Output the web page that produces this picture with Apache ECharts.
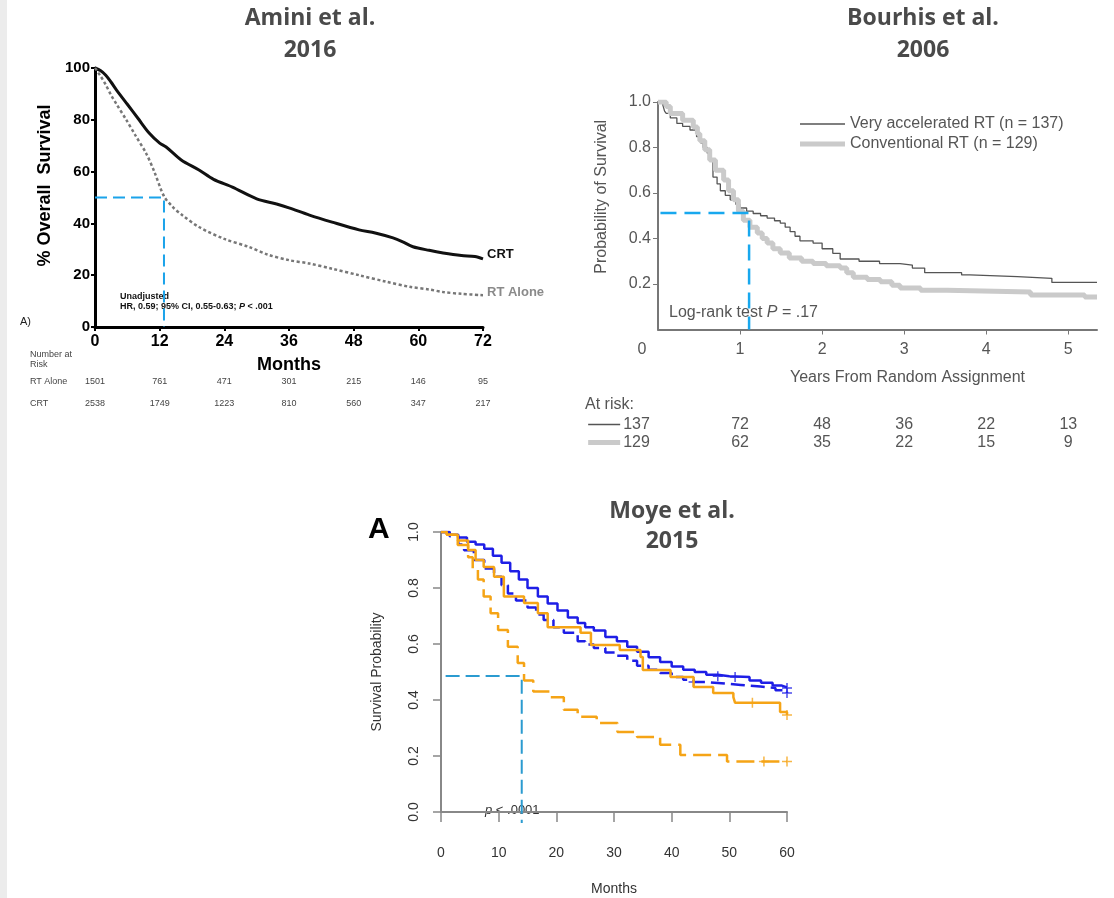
<!DOCTYPE html>
<html>
<head>
<meta charset="utf-8">
<script src="https://cdn.jsdelivr.net/npm/echarts@6/dist/echarts.min.js"></script>
<style>
  html, body { margin: 0; background: #fff; }
  #main { width: 1114px; height: 898px; }
</style>
</head>
<body>
<div id="main"></div>
<script>
// Amini et al. 2016 (months, % overall survival)
const aminiCrt = [[0, 100], [1, 99], [2, 97.2], [3, 94.5], [4, 91.5], [6, 86], [8, 80.5], [10, 75], [12, 71], [13.2, 69.5], [16, 64.5], [19.3, 60.6], [22, 57], [25.5, 54], [30, 49.5], [33.7, 47.5], [36, 46], [39.8, 43.2], [44, 40.5], [49, 37.5], [52, 36.3], [55.3, 34.4], [57, 33], [59, 31], [62, 29.6], [64.6, 28.6], [68, 27.6], [70.5, 27.2], [72, 26.3]]
const aminiRtAlone = [[0, 100], [1, 97], [2, 93.5], [3, 89.5], [4, 86], [5.8, 80], [7.5, 74], [9.5, 67], [11, 60], [12.8, 50.5], [14.5, 46.2], [16, 43.5], [19.3, 38.6], [24, 34], [28.6, 30.9], [32, 28], [36, 25.8], [39.8, 24.5], [44, 22.5], [49, 20], [54, 17.5], [58.4, 15.5], [62, 14.5], [64.6, 13.5], [68, 12.8], [72, 12.3]]
const aminiMedian = [12.8, 50]
const aminiRiskRtAlone = [1501, 761, 471, 301, 215, 146, 95]
const aminiRiskCrt = [2538, 1749, 1223, 810, 560, 347, 217]

// Bourhis et al. 2006 (years, probability)
const bourhisVeryAcc = [[0, 1], [0.06, 0.985], [0.08, 0.96], [0.1, 0.95], [0.15, 0.93], [0.23, 0.906], [0.3, 0.893], [0.39, 0.877], [0.47, 0.848], [0.52, 0.82], [0.55, 0.8], [0.6, 0.775], [0.63, 0.745], [0.67, 0.67], [0.72, 0.64], [0.76, 0.61], [0.82, 0.59], [0.88, 0.57], [0.95, 0.55], [1.0, 0.534], [1.08, 0.52], [1.16, 0.51], [1.25, 0.5], [1.33, 0.49], [1.42, 0.478], [1.49, 0.468], [1.55, 0.45], [1.61, 0.43], [1.67, 0.41], [1.73, 0.39], [1.89, 0.38], [2.0, 0.355], [2.13, 0.335], [2.22, 0.31], [2.45, 0.3], [2.7, 0.29], [2.95, 0.283], [3.1, 0.27], [3.25, 0.25], [3.7, 0.24], [3.8, 0.232], [4.38, 0.225], [4.8, 0.207], [5.35, 0.207]]
const bourhisConv = [[0, 1], [0.1, 0.98], [0.15, 0.95], [0.3, 0.92], [0.43, 0.89], [0.48, 0.86], [0.51, 0.83], [0.57, 0.79], [0.63, 0.745], [0.7, 0.7], [0.8, 0.657], [0.86, 0.61], [0.92, 0.57], [0.98, 0.52], [1.04, 0.48], [1.12, 0.45], [1.21, 0.424], [1.27, 0.4], [1.33, 0.38], [1.4, 0.355], [1.49, 0.336], [1.6, 0.314], [1.75, 0.3], [1.89, 0.29], [2.05, 0.28], [2.22, 0.27], [2.3, 0.25], [2.38, 0.23], [2.55, 0.22], [2.71, 0.21], [2.85, 0.195], [2.95, 0.182], [3.2, 0.172], [3.52, 0.165], [4.54, 0.152], [5.2, 0.143], [5.35, 0.14]]
const bourhisMedian = [1.11, 0.512]
const bourhisRiskVeryAcc = [137, 72, 48, 36, 22, 13]
const bourhisRiskConv = [129, 62, 35, 22, 15, 9]

// Moye et al. 2015 (months, probability)
const moyeBlueSolid = [[0, 1], [1.5, 0.99], [3, 0.98], [4.5, 0.965], [6, 0.955], [7.5, 0.94], [9, 0.915], [10.5, 0.89], [12, 0.86], [13.5, 0.83], [15, 0.8], [16.8, 0.77], [18.5, 0.745], [20.2, 0.72], [22, 0.695], [23.7, 0.675], [25, 0.66], [26.5, 0.648], [28.5, 0.625], [30.5, 0.61], [32.3, 0.59], [34, 0.572], [36, 0.553], [38, 0.536], [40, 0.52], [42, 0.508], [44, 0.5], [46, 0.49], [48, 0.485], [50, 0.482], [53.5, 0.47], [55.5, 0.462], [57.5, 0.452], [59, 0.445], [60, 0.443]]
const moyeBlueDashed = [[0, 1], [1.5, 0.985], [3, 0.955], [4, 0.935], [5.7, 0.9], [7.5, 0.87], [9.2, 0.84], [10.5, 0.81], [11.6, 0.78], [13, 0.755], [15, 0.73], [16.5, 0.705], [17.8, 0.686], [19.5, 0.66], [21.3, 0.64], [23.7, 0.61], [25, 0.598], [26.5, 0.586], [28.5, 0.57], [30.5, 0.558], [32.3, 0.54], [34, 0.522], [36, 0.508], [38, 0.496], [40, 0.482], [42, 0.472], [43.8, 0.464], [46, 0.458], [49.6, 0.454], [52, 0.448], [55.4, 0.443], [58, 0.435], [60, 0.425]]
const moyeOrangeSolid = [[0, 1], [1, 0.99], [2.9, 0.97], [4.7, 0.936], [6, 0.9], [7.4, 0.875], [9.2, 0.84], [10.9, 0.77], [14.4, 0.746], [16.8, 0.71], [18.5, 0.66], [24.2, 0.64], [26, 0.596], [31, 0.579], [34.6, 0.554], [35, 0.507], [39.8, 0.482], [43.8, 0.446], [47.2, 0.425], [50.7, 0.41], [51, 0.39], [58.8, 0.357], [60, 0.346]]
const moyeOrangeDashed = [[0, 1], [1, 0.99], [2.9, 0.954], [4.7, 0.91], [5.5, 0.87], [6.4, 0.83], [7.4, 0.77], [8.6, 0.71], [9.9, 0.65], [11.6, 0.59], [13.3, 0.532], [14.4, 0.47], [16, 0.43], [19, 0.41], [21.3, 0.365], [23.7, 0.34], [27, 0.318], [30.6, 0.286], [34, 0.268], [38, 0.24], [41.5, 0.204], [49.6, 0.18], [60, 0.18]]
const moyeCensorBlueSolid = [[48, 0.485], [51, 0.482], [60, 0.443]]
const moyeCensorBlueDashed = [[43.8, 0.464], [60, 0.425]]
const moyeCensorOrangeSolid = [[54, 0.39], [60, 0.346]]
const moyeCensorOrangeDashed = [[56, 0.18], [60, 0.18]]
const moyeMedian = [14, 0.486]

const FONT = '"Liberation Sans", Arial, sans-serif'
const TITLE_FONT = 'bold 23px "Open Sans", sans-serif'

function refLine(m, x0, yBottom) {
  return [[x0, m[1]], [m[0], m[1]], [m[0], yBottom]]
}

function text(x, y, str, font, fill, extra) {
  return {
    type: 'text',
    x: x,
    y: y,
    style: Object.assign({ text: str, font: font, fill: fill, align: 'left', verticalAlign: 'middle' }, extra || {})
  }
}

const plus = 'path://M5,0L5,10M0,5L10,5'

const chart = echarts.init(document.getElementById('main'))

const option = {
  backgroundColor: '#fff',
  animation: false,
  graphic: [
    { type: 'rect', shape: { x: 0, y: 0, width: 7, height: 898 }, style: { fill: '#ececec' } },
    text(310, 18, 'Amini et al.', TITLE_FONT, '#4a4a4a', { align: 'center' }),
    text(310, 50, '2016', TITLE_FONT, '#4a4a4a', { align: 'center' }),
    text(923, 18, 'Bourhis et al.', TITLE_FONT, '#4a4a4a', { align: 'center' }),
    text(923, 50, '2006', TITLE_FONT, '#4a4a4a', { align: 'center' }),
    text(672, 511, 'Moye et al.', TITLE_FONT, '#4a4a4a', { align: 'center' }),
    text(672, 541, '2015', TITLE_FONT, '#4a4a4a', { align: 'center' }),
    text(120, 297, 'Unadjusted', 'bold 9px ' + FONT, '#111'),
    text(120, 307, '{b|HR, 0.59; 95% CI, 0.55-0.63; }{i|P}{b| < .001}', 'bold 9px ' + FONT, '#111', {
      rich: {
        b: { fontSize: 9, fontWeight: 'bold', fontFamily: FONT, fill: '#111' },
        i: { fontSize: 9, fontWeight: 'bold', fontStyle: 'italic', fontFamily: FONT, fill: '#111' }
      }
    }),
    text(20, 322, 'A)', '11px ' + FONT, '#222'),
    text(30, 360, 'Number at\nRisk', '9px ' + FONT, '#444', { lineHeight: 10 }),
    text(30, 382, 'RT Alone', '9px ' + FONT, '#444'),
    text(30, 404, 'CRT', '9px ' + FONT, '#444'),
    text(669, 313, '{n|Log-rank test }{i|P}{n| = .17}', '16px ' + FONT, '#555', {
      rich: {
        n: { fontSize: 16, fontFamily: FONT, fill: '#555' },
        i: { fontSize: 16, fontStyle: 'italic', fontFamily: FONT, fill: '#555' }
      }
    }),
    text(585, 405, 'At risk:', '16px ' + FONT, '#555'),
    text(368, 530, 'A', 'bold 30px ' + FONT, '#000'),
    text(485, 810, '{i|p}{n| < .0001}', '13px ' + FONT, '#333', {
      rich: {
        n: { fontSize: 13, fontFamily: FONT, fill: '#333' },
        i: { fontSize: 13, fontStyle: 'italic', fontFamily: FONT, fill: '#333' }
      }
    })
  ],
  legend: {
    data: [
      { name: 'Very accelerated RT (n = 137)', icon: 'path://M0,0H45V1.5H0Z' },
      { name: 'Conventional RT (n = 129)', icon: 'path://M0,0H45V5H0Z' }
    ],
    left: 795,
    top: 111,
    orient: 'vertical',
    itemWidth: 45,
    itemHeight: 14,
    itemGap: 4,
    textStyle: { color: '#555', fontSize: 16, fontFamily: FONT }
  },
  grid: [
    { left: 95, top: 68, width: 388, height: 259 },
    { left: 658, top: 102, width: 439, height: 227.5 },
    { left: 441, top: 532, width: 346, height: 280 }
  ],
  xAxis: [
    {
      gridIndex: 0, type: 'value', min: 0, max: 72, interval: 12,
      axisLine: { show: true, lineStyle: { color: '#000', width: 3 } },
      axisTick: { show: true, length: 4, lineStyle: { color: '#000', width: 2 } },
      axisLabel: { margin: 7, fontSize: 16, fontWeight: 'bold', color: '#000', fontFamily: FONT },
      splitLine: { show: false },
      name: 'Months', nameLocation: 'middle', nameGap: 29,
      nameTextStyle: { fontSize: 18, fontWeight: 'bold', color: '#000', fontFamily: FONT }
    },
    {
      gridIndex: 0, type: 'value', min: 0, max: 72, interval: 12, position: 'bottom', offset: 46,
      axisLine: { show: false }, axisTick: { show: false }, splitLine: { show: false },
      axisLabel: { margin: 4, fontSize: 9, color: '#444', fontFamily: FONT, formatter: (v) => aminiRiskRtAlone[Math.round(v / 12)] }
    },
    {
      gridIndex: 0, type: 'value', min: 0, max: 72, interval: 12, position: 'bottom', offset: 68,
      axisLine: { show: false }, axisTick: { show: false }, splitLine: { show: false },
      axisLabel: { margin: 4, fontSize: 9, color: '#444', fontFamily: FONT, formatter: (v) => aminiRiskCrt[Math.round(v / 12)] }
    },
    {
      gridIndex: 1, type: 'value', min: 0, max: 5.35, interval: 1,
      axisLine: { show: true, lineStyle: { color: '#777', width: 2 } },
      axisTick: { show: true, length: 5, customValues: [1, 2, 3, 4, 5], lineStyle: { color: '#777' } },
      axisLabel: {
        margin: 12, fontSize: 16, color: '#555', fontFamily: FONT,
        customValues: [0, 1, 2, 3, 4, 5],
        formatter: (v) => (v === 0 ? '{z|0}' : (Number.isInteger(v) ? String(v) : '')),
        rich: { z: { fontSize: 16, color: '#555', fontFamily: FONT, padding: [0, 32, 0, 0] } }
      },
      splitLine: { show: false },
      name: 'Years From Random Assignment', nameLocation: 'middle', nameGap: 40,
      nameTextStyle: { fontSize: 16, color: '#555', fontFamily: FONT, padding: [0, 0, 0, 60] }
    },
    {
      gridIndex: 1, type: 'value', min: 0, max: 5.35, interval: 1, position: 'bottom', offset: 80,
      axisLine: { show: false }, axisTick: { show: false }, splitLine: { show: false },
      axisLabel: {
        margin: 7, fontSize: 16, color: '#555', fontFamily: FONT,
        customValues: [0, 1, 2, 3, 4, 5],
        formatter: (v) => {
          if (!Number.isInteger(v)) return ''
          return v === 0 ? '{ln|}{n|' + bourhisRiskVeryAcc[0] + '}{sp|}' : String(bourhisRiskVeryAcc[v])
        },
        rich: {
          ln: { width: 32, height: 1.5, backgroundColor: '#555' },
          n: { fontSize: 16, color: '#555', fontFamily: FONT, padding: [0, 0, 0, 3] },
          sp: { width: 78 }
        }
      }
    },
    {
      gridIndex: 1, type: 'value', min: 0, max: 5.35, interval: 1, position: 'bottom', offset: 98,
      axisLine: { show: false }, axisTick: { show: false }, splitLine: { show: false },
      axisLabel: {
        margin: 7, fontSize: 16, color: '#555', fontFamily: FONT,
        customValues: [0, 1, 2, 3, 4, 5],
        formatter: (v) => {
          if (!Number.isInteger(v)) return ''
          return v === 0 ? '{ln|}{n|' + bourhisRiskConv[0] + '}{sp|}' : String(bourhisRiskConv[v])
        },
        rich: {
          ln: { width: 32, height: 5, backgroundColor: '#cacaca' },
          n: { fontSize: 16, color: '#555', fontFamily: FONT, padding: [0, 0, 0, 3] },
          sp: { width: 78 }
        }
      }
    },
    {
      gridIndex: 2, type: 'value', min: 0, max: 60, interval: 10, offset: 11,
      axisLine: { show: true, lineStyle: { color: '#888', width: 2 } },
      axisTick: { show: true, length: 10, lineStyle: { color: '#888', width: 1.5 } },
      axisLabel: { margin: 23, fontSize: 14, color: '#333', fontFamily: FONT },
      splitLine: { show: false },
      name: 'Months', nameLocation: 'middle', nameGap: 59,
      nameTextStyle: { fontSize: 14, color: '#333', fontFamily: FONT }
    }
  ],
  yAxis: [
    {
      gridIndex: 0, type: 'value', min: 0, max: 100, interval: 20,
      axisLine: { show: true, lineStyle: { color: '#000', width: 3 } },
      axisTick: { show: true, length: 4, lineStyle: { color: '#000', width: 2 } },
      axisLabel: { margin: 5, fontSize: 15, fontWeight: 'bold', color: '#000', fontFamily: FONT },
      splitLine: { show: false },
      name: '% Overall  Survival', nameLocation: 'middle', nameGap: 41,
      nameTextStyle: { fontSize: 18, fontWeight: 'bold', color: '#000', fontFamily: FONT, padding: [0, 0, 0, 24] }
    },
    {
      gridIndex: 1, type: 'value', min: 0, max: 1, interval: 0.2,
      axisLine: { show: true, lineStyle: { color: '#777', width: 2 } },
      axisTick: { show: true, length: 5, customValues: [0.2, 0.4, 0.6, 0.8, 1], lineStyle: { color: '#777' } },
      axisLabel: { margin: 7, fontSize: 16, color: '#555', fontFamily: FONT, formatter: (v) => (v === 0 ? '' : v.toFixed(1)) },
      splitLine: { show: false },
      name: 'Probability of Survival', nameLocation: 'middle', nameGap: 48,
      nameTextStyle: { fontSize: 16, color: '#555', fontFamily: FONT, padding: [0, 0, 0, 38] }
    },
    {
      gridIndex: 2, type: 'value', min: 0, max: 1, interval: 0.2,
      axisLine: { show: true, lineStyle: { color: '#888', width: 2 } },
      axisTick: { show: true, length: 8, lineStyle: { color: '#888', width: 1.5 } },
      axisLabel: { margin: 20, rotate: 90, fontSize: 14, color: '#333', fontFamily: FONT, formatter: (v) => v.toFixed(1) },
      splitLine: { show: false },
      name: 'Survival Probability', nameLocation: 'middle', nameGap: 57,
      nameTextStyle: { fontSize: 14, color: '#333', fontFamily: FONT }
    }
  ],
  series: [
    {
      name: 'CRT', type: 'line', xAxisIndex: 0, yAxisIndex: 0, data: aminiCrt,
      symbol: 'none', smooth: 0.3, lineStyle: { color: '#111', width: 3 },
      endLabel: { show: true, formatter: (p) => p.seriesName, distance: 4, offset: [0, -4], fontSize: 13, fontWeight: 'bold', color: '#111', fontFamily: FONT }
    },
    {
      name: 'RT Alone', type: 'line', xAxisIndex: 0, yAxisIndex: 0, data: aminiRtAlone,
      symbol: 'none', smooth: 0.3, lineStyle: { color: '#777', width: 2.5, type: [3, 2.5] },
      endLabel: { show: true, formatter: (p) => p.seriesName, distance: 4, offset: [0, -3], fontSize: 13, fontWeight: 'bold', color: '#8a8a8a', fontFamily: FONT }
    },
    {
      name: 'Amini median', type: 'line', xAxisIndex: 0, yAxisIndex: 0, data: refLine(aminiMedian, 0, 0),
      symbol: 'none', silent: true, lineStyle: { color: '#1ba3ea', width: 2, type: [12, 6] }
    },
    {
      name: 'Very accelerated RT (n = 137)', type: 'line', xAxisIndex: 3, yAxisIndex: 1, data: bourhisVeryAcc,
      symbol: 'none', step: 'end', lineStyle: { color: '#555', width: 1.3 }, itemStyle: { color: '#555' }
    },
    {
      name: 'Conventional RT (n = 129)', type: 'line', xAxisIndex: 3, yAxisIndex: 1, data: bourhisConv,
      symbol: 'none', step: 'end', lineStyle: { color: '#cacaca', width: 5 }, itemStyle: { color: '#cacaca' }
    },
    {
      name: 'Bourhis median', type: 'line', xAxisIndex: 3, yAxisIndex: 1, data: refLine(bourhisMedian, 0.03, 0),
      symbol: 'none', silent: true, lineStyle: { color: '#18a8ee', width: 2.5, type: [16, 8] }
    },
    {
      name: 'Moye blue solid', type: 'line', xAxisIndex: 6, yAxisIndex: 2, data: moyeBlueSolid,
      symbol: 'none', step: 'end', lineStyle: { color: '#1e1ee6', width: 2.5 }
    },
    {
      name: 'Moye blue dashed', type: 'line', xAxisIndex: 6, yAxisIndex: 2, data: moyeBlueDashed,
      symbol: 'none', step: 'end', lineStyle: { color: '#1e1ee6', width: 2.5, type: [14, 6] }
    },
    {
      name: 'Moye orange solid', type: 'line', xAxisIndex: 6, yAxisIndex: 2, data: moyeOrangeSolid,
      symbol: 'none', step: 'end', lineStyle: { color: '#f5a416', width: 2.5 }
    },
    {
      name: 'Moye orange dashed', type: 'line', xAxisIndex: 6, yAxisIndex: 2, data: moyeOrangeDashed,
      symbol: 'none', step: 'end', lineStyle: { color: '#f5a416', width: 2.5, type: [18, 7] }
    },
    {
      name: 'Censor blue solid', type: 'scatter', xAxisIndex: 6, yAxisIndex: 2, data: moyeCensorBlueSolid,
      symbol: plus, symbolSize: 10, itemStyle: { color: 'transparent', borderColor: '#1e1ee6', borderWidth: 1.5 }
    },
    {
      name: 'Censor blue dashed', type: 'scatter', xAxisIndex: 6, yAxisIndex: 2, data: moyeCensorBlueDashed,
      symbol: plus, symbolSize: 10, itemStyle: { color: 'transparent', borderColor: '#1e1ee6', borderWidth: 1.5 }
    },
    {
      name: 'Censor orange solid', type: 'scatter', xAxisIndex: 6, yAxisIndex: 2, data: moyeCensorOrangeSolid,
      symbol: plus, symbolSize: 10, itemStyle: { color: 'transparent', borderColor: '#f5a416', borderWidth: 1.5 }
    },
    {
      name: 'Censor orange dashed', type: 'scatter', xAxisIndex: 6, yAxisIndex: 2, data: moyeCensorOrangeDashed,
      symbol: plus, symbolSize: 10, itemStyle: { color: 'transparent', borderColor: '#f5a416', borderWidth: 1.5 }
    },
    {
      name: 'Moye median', type: 'line', xAxisIndex: 6, yAxisIndex: 2, data: refLine(moyeMedian, 0.8, -0.039),
      symbol: 'none', silent: true, clip: false, lineStyle: { color: '#2b9bd0', width: 2, type: [14, 6] }
    }
  ]
}

chart.setOption(option)
</script>
</body>
</html>
